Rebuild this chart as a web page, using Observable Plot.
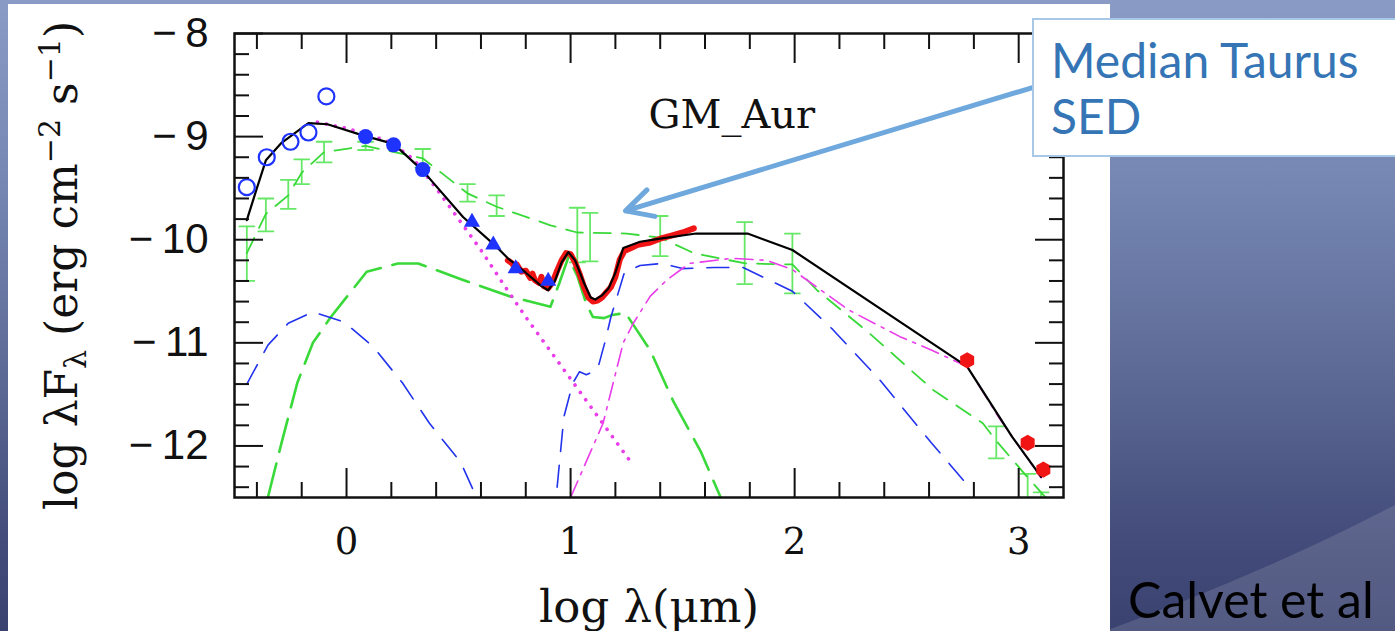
<!DOCTYPE html>
<html>
<head>
<meta charset="utf-8">
<script src="https://cdn.jsdelivr.net/npm/d3@7"></script>
<script src="https://cdn.jsdelivr.net/npm/@observablehq/plot@0.6"></script>
<style>
html,body{margin:0;padding:0;width:1395px;height:631px;overflow:hidden;background:#4a5586;}
#slide{position:absolute;left:0;top:0;width:1395px;height:631px;
  background:linear-gradient(180deg,#8a9bc5 0%,#7586b2 30%,#5b6793 62%,#434c7a 85%,#3a4270 100%);}
#swoosh{position:absolute;left:0;top:0;}
#paper{position:absolute;left:8px;top:4px;width:1102px;height:627px;background:#fff;}
#chart{position:absolute;left:0;top:0;}
#callout{position:absolute;left:1032px;top:18px;width:420px;height:139px;background:#fff;
  border:2px solid #a8c8e8;box-sizing:border-box;padding:12px 0 0 17px;
  font-family:Lato,"Open Sans",sans-serif;font-size:48px;line-height:56px;color:#3575b5;}
#credit{position:absolute;left:1128px;top:571px;font-family:Lato,"Open Sans",sans-serif;
  font-size:50px;line-height:56px;color:#000;white-space:nowrap;}
</style>
</head>
<body>
<div id="slide"></div>
<svg id="swoosh" width="1395" height="631"><path d="M1105,631 Q1260,575 1395,505 L1395,631 Z" fill="rgba(255,255,255,0.13)"/></svg>
<div id="paper"></div>
<div id="chart"></div>
<div id="callout">Median Taurus<br>SED</div>
<div id="credit">Calvet et al</div>
<script>
// ---------- axes / ticks ----------
const xDomain = [-0.5, 3.2];
const yDomain = [-12.5, -8];
const xMajor = [0, 1, 2, 3];
const xMinor = [-0.4, -0.2, 0.2, 0.4, 0.6, 0.8, 1.2, 1.4, 1.6, 1.8, 2.2, 2.4, 2.6, 2.8];
const yMajor = [-8, -9, -10, -11, -12];
const yMinor = [-8.2, -8.4, -8.6, -8.8, -9.2, -9.4, -9.6, -9.8, -10.2, -10.4, -10.6, -10.8,
                -11.2, -11.4, -11.6, -11.8, -12.2, -12.4];

// ---------- texts ----------
const xTitle = "log λ(μm)";
const yTitle = "log λFλ (erg cm−2 s−1)";
const objectName = {label: "GM_Aur", x: 1.72, y: -8.79};
const calloutArrow = [{x1: 3.062, y1: -8.524, x2: 1.245, y2: -9.72}];

// ---------- data: [log lambda, log lambda F_lambda] ----------
const totalModel = [[-0.445,-9.81],[-0.40,-9.50],[-0.36,-9.23],[-0.29,-9.06],[-0.17,-8.87],[-0.085,-8.88],
  [0.076,-8.99],[0.21,-9.07],[0.34,-9.33],[0.52,-9.78],[0.67,-10.07],[0.72,-10.18],[0.80,-10.32],
  [0.87,-10.45],[0.90,-10.49],[0.93,-10.40],[0.96,-10.22],[0.99,-10.12],[1.02,-10.20],[1.06,-10.42],
  [1.09,-10.56],[1.11,-10.58],[1.14,-10.54],[1.17,-10.47],[1.20,-10.32],[1.235,-10.08],[1.31,-10.02],
  [1.40,-9.99],[1.56,-9.94],[1.79,-9.94],[1.99,-10.10],[2.77,-11.23],[2.97,-11.91],[3.10,-12.30]];

const irsSpectrum = [[0.72,-10.20],[0.74,-10.23],[0.75,-10.27],[0.76,-10.24],[0.78,-10.31],[0.80,-10.30],
  [0.82,-10.37],[0.83,-10.33],[0.84,-10.39],[0.86,-10.42],[0.87,-10.36],[0.88,-10.45],[0.90,-10.47],
  [0.92,-10.41],[0.94,-10.30],[0.96,-10.20],[0.98,-10.13],[1.00,-10.14],[1.02,-10.22],[1.04,-10.33],
  [1.06,-10.46],[1.08,-10.56],[1.10,-10.60],[1.12,-10.59],[1.14,-10.56],[1.16,-10.51],[1.18,-10.46],
  [1.20,-10.36],[1.22,-10.19],[1.24,-10.11],[1.27,-10.08],[1.30,-10.05],[1.35,-10.03],[1.40,-9.99],
  [1.45,-9.96],[1.50,-9.93],[1.55,-9.89]];

const photometryOpen = [[-0.445,-9.49],[-0.356,-9.20],[-0.25,-9.05],[-0.17,-8.96],[-0.09,-8.61]];
const photometryFilled = [[0.085,-9.00],[0.21,-9.08],[0.34,-9.32]];
const photometryTriangles = [[0.56,-9.83],[0.655,-10.05],[0.755,-10.28],[0.90,-10.40]];
const submm = [[2.77,-11.17],[3.04,-11.97],[3.11,-12.23]];

const photosphere = [[-0.13,-8.86],[0.0,-8.92],[0.1,-8.98],[0.2,-9.06],[0.3,-9.22],[0.4,-9.50],
  [0.5,-9.80],[0.6,-10.10],[0.7,-10.43],[0.8,-10.75],[0.9,-11.05],[1.0,-11.35],[1.1,-11.65],
  [1.2,-11.95],[1.27,-12.16]];

const innerDisk = [[-0.35,-12.49],[-0.29,-11.97],[-0.22,-11.39],[-0.15,-11.0],[-0.07,-10.75],[0.09,-10.31],
  [0.23,-10.23],[0.32,-10.23],[0.52,-10.39],[0.73,-10.55],[0.91,-10.65],[0.95,-10.42],[0.99,-10.17],
  [1.03,-10.35],[1.07,-10.62],[1.10,-10.75],[1.15,-10.76],[1.185,-10.73],[1.245,-10.71],[1.355,-11.07],
  [1.457,-11.56],[1.58,-12.05],[1.67,-12.5]];

const accretionShock = [[-0.445,-11.40],[-0.35,-11.02],[-0.26,-10.81],[-0.15,-10.70],[-0.01,-10.80],
  [0.12,-11.04],[0.25,-11.39],[0.37,-11.78],[0.51,-12.16],[0.57,-12.45]];

const outerWall = [[0.94,-12.40],[0.97,-11.72],[1.01,-11.39],[1.04,-11.28],[1.07,-11.31],[1.12,-11.26],
  [1.155,-10.98],[1.18,-10.75],[1.24,-10.32],[1.31,-10.25],[1.41,-10.23],[1.50,-10.28],[1.64,-10.27],
  [1.77,-10.27],[1.99,-10.50],[2.17,-10.87],[2.38,-11.36],[2.61,-11.97],[2.78,-12.40]];

const outerDisk = [[1.0,-12.5],[1.145,-11.78],[1.235,-11.0],[1.28,-10.81],[1.355,-10.55],[1.43,-10.39],
  [1.53,-10.23],[1.72,-10.18],[1.875,-10.20],[1.99,-10.29],[2.24,-10.68],[2.47,-10.94],[2.61,-11.07],
  [2.77,-11.23],[2.91,-11.72],[3.10,-12.31]];

const medianLine = [[-0.445,-10.13],[-0.36,-9.75],[-0.26,-9.57],[-0.20,-9.35],[-0.10,-9.15],[0.085,-9.09],
  [0.34,-9.21],[0.54,-9.55],[0.67,-9.68],[0.91,-9.86],[1.03,-9.93],[1.25,-9.94],[1.40,-9.98],[1.55,-10.13],
  [1.78,-10.23],[1.99,-10.24],[2.10,-10.49],[2.33,-10.90],[2.62,-11.46],[2.84,-11.78],[2.90,-11.95],
  [3.03,-12.28],[3.12,-12.5]];
const medianBarX  = [-0.445,-0.36,-0.26,-0.20,-0.10,0.085,0.34,0.54,0.67,1.03,1.087,1.40,1.777,1.99,2.90,3.04,3.10];
const medianBarHi = [-9.87,-9.60,-9.42,-9.22,-9.05,-9.05,-9.12,-9.46,-9.57,-9.69,-9.74,-9.77,-9.83,-9.94,-11.81,-12.27,-12.45];
const medianBarLo = [-10.40,-9.92,-9.70,-9.46,-9.25,-9.13,-9.30,-9.63,-9.77,-10.22,-10.21,-10.16,-10.43,-10.52,-12.12,-12.70,-12.80];

// ---------- styles ----------
const GREEN = "#3ad93a", BAR = "#66e866", BLUE = "#2233ee", MAG = "#ea3dea", RED = "#f01414";
const capShape = {draw(ctx, l) { ctx.moveTo(-l / 2, 0); ctx.lineTo(l / 2, 0); }};
const tickOpts = {label: null, tickFormat: () => "", strokeWidth: 2};
const fmtY = d => (d < 0 ? "\u2212\u2009" + Math.abs(d) : String(d));
const fmtX = d => String(d);

const chart = Plot.plot({
  width: 1395, height: 631,
  marginLeft: 234, marginRight: 332, marginTop: 33, marginBottom: 134,
  x: {domain: xDomain},
  y: {domain: yDomain},
  style: {background: "transparent", overflow: "visible", color: "#111"},
  marks: [
    // median Taurus SED with error bars
    Plot.ruleX(medianBarX, {x: d => d, y1: (d, i) => medianBarLo[i], y2: (d, i) => medianBarHi[i], stroke: BAR, strokeWidth: 1.8, clip: true}),
    Plot.vector(medianBarX, {x: d => d, y: (d, i) => medianBarLo[i], length: 15, rotate: 0, anchor: "start", shape: capShape, stroke: BAR, strokeWidth: 1.8, clip: true}),
    Plot.vector(medianBarX, {x: d => d, y: (d, i) => medianBarHi[i], length: 15, rotate: 0, anchor: "start", shape: capShape, stroke: BAR, strokeWidth: 1.8, clip: true}),
    Plot.line(medianLine, {stroke: GREEN, strokeWidth: 1.8, strokeDasharray: "17,11", clip: true}),
    // model components
    Plot.line(innerDisk, {stroke: GREEN, strokeWidth: 2.6, strokeDasharray: "34,12", clip: true}),
    Plot.line(accretionShock, {stroke: BLUE, strokeWidth: 1.6, strokeDasharray: "22,14", clip: true}),
    Plot.line(outerWall, {stroke: BLUE, strokeWidth: 1.6, strokeDasharray: "22,14", clip: true}),
    Plot.line(outerDisk, {stroke: MAG, strokeWidth: 1.6, strokeDasharray: "18,7,3,7", clip: true}),
    Plot.line(photosphere, {stroke: MAG, strokeWidth: 3.6, strokeDasharray: "0.1,9", strokeLinecap: "round", clip: true}),
    // spectrum and total model
    Plot.line(irsSpectrum, {stroke: RED, strokeWidth: 6, clip: true}),
    Plot.line(totalModel, {stroke: "#000", strokeWidth: 2.2, clip: true}),
    // photometry
    Plot.dot(photometryOpen, {r: 8, stroke: "#1f33ff", strokeWidth: 2.2, fill: "none"}),
    Plot.dot(photometryFilled, {r: 7.5, fill: "#1f33ff", stroke: "none"}),
    Plot.dot(photometryTriangles, {r: 6, symbol: "triangle", fill: "#1f33ff", stroke: "none"}),
    Plot.dot(submm, {r: 7, symbol: "hexagon", fill: RED, stroke: "none"}),
    // frame and ticks (inward, on all four sides)
    Plot.frame({stroke: "#111", strokeWidth: 2.5}),
    Plot.axisX({...tickOpts, anchor: "bottom", ticks: xMajor, tickSize: -29}),
    Plot.axisX({...tickOpts, anchor: "bottom", ticks: xMinor, tickSize: -15}),
    Plot.axisX({...tickOpts, anchor: "top", ticks: xMajor, tickSize: -29}),
    Plot.axisX({...tickOpts, anchor: "top", ticks: xMinor, tickSize: -15}),
    Plot.axisY({...tickOpts, anchor: "left", ticks: yMajor, tickSize: -29}),
    Plot.axisY({...tickOpts, anchor: "left", ticks: yMinor, tickSize: -15}),
    Plot.axisY({...tickOpts, anchor: "right", ticks: yMajor, tickSize: -29}),
    Plot.axisY({...tickOpts, anchor: "right", ticks: yMinor, tickSize: -15}),
    // tick labels
    Plot.axisX({anchor: "bottom", ticks: xMajor, tickSize: 0, tickPadding: 30, tickFormat: fmtX, label: null,
      fontSize: 37, fontFamily: "DejaVu Serif"}),
    Plot.axisY({anchor: "left", ticks: yMajor, tickSize: 0, tickPadding: 26, tickFormat: fmtY, label: null,
      fontSize: 42, fontFamily: "Liberation Sans"}),
    // titles
    Plot.text([xTitle], {text: d => d, frameAnchor: "bottom", dy: 110, lineAnchor: "middle", textAnchor: "middle",
      fontSize: 45, fontFamily: "DejaVu Serif", fill: "#111"}),
    Plot.text([yTitle], {text: d => d, frameAnchor: "left", dx: -172, rotate: -90, lineAnchor: "middle",
      textAnchor: "middle", fontSize: 44, fontFamily: "DejaVu Serif", fill: "#111"}),
    Plot.text([objectName], {x: "x", y: "y", text: "label", lineAnchor: "middle", textAnchor: "middle",
      fontSize: 40, fontFamily: "DejaVu Serif", fill: "#111"}),
    // callout arrow
    Plot.arrow(calloutArrow, {x1: "x1", y1: "y1", x2: "x2", y2: "y2", stroke: "#6fa8dc",
      strokeWidth: 5, headLength: 9, headAngle: 55})
  ]
});
document.getElementById("chart").appendChild(chart);

// rich text for y title (subscript / superscripts)
const svg = d3.select(chart);
svg.selectAll("text").filter(function () { return this.textContent === yTitle; }).each(function () {
  const t = d3.select(this);
  t.attr("text-anchor", "middle");
  t.text(null);
  t.append("tspan").text("log λF");
  t.append("tspan").attr("font-size", "30").attr("dy", "9").text("λ");
  t.append("tspan").attr("dy", "-9").text(" (erg cm");
  t.append("tspan").attr("font-size", "30").attr("dy", "-17").text("−2");
  t.append("tspan").attr("dy", "17").text(" s");
  t.append("tspan").attr("font-size", "30").attr("dy", "-17").text("−1");
  t.append("tspan").attr("dy", "17").text(")");
});
</script>
</body>
</html>
